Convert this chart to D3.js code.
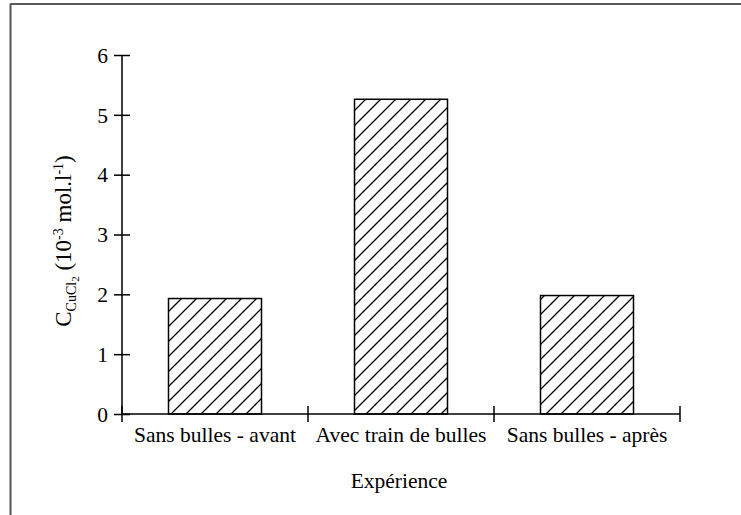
<!DOCTYPE html>
<html><head><meta charset="utf-8">
<script src="https://cdn.jsdelivr.net/npm/d3@7"></script>
<style>body{margin:0;background:#fff}svg{display:block}</style>
</head><body><svg id="c" width="741" height="515"></svg>
<script>
const categories = ["Sans bulles - avant", "Avec train de bulles", "Sans bulles - après"];
const values = [1.93, 5.26, 1.98];
const yTicks = [0, 1, 2, 3, 4, 5, 6];
const xTitle = "Expérience";

(function(){
const FF = "'Liberation Serif', 'Times New Roman', Times, serif";
const svg = d3.select("#c");
// frame
svg.append("line").attr("x1",10.5).attr("x2",741).attr("y1",4).attr("y2",4).attr("stroke","#222").attr("stroke-width",1.5);
svg.append("line").attr("x1",10.5).attr("x2",10.5).attr("y1",3.5).attr("y2",515).attr("stroke","#555").attr("stroke-width",2);

const defs = svg.append("defs");
const pat = defs.append("pattern").attr("id","hatch").attr("patternUnits","userSpaceOnUse")
  .attr("width",15).attr("height",15);
pat.append("rect").attr("width",15).attr("height",15).attr("fill","#fff");
pat.append("path").attr("d","M-2,17 L17,-2 M-2,2 L2,-2 M13,17 L17,13").attr("stroke","#000").attr("stroke-width",1.3);

const mLeft = 122, mRight = 680, mTop = 55, mBottom = 414;
const x = d3.scaleBand().domain(categories).range([mLeft, mRight]).paddingInner(0).paddingOuter(0);
const y = d3.scaleLinear().domain([0, 6]).range([mBottom, mTop]);

// bars
const bw = x.bandwidth() * 0.5;
svg.selectAll("rect.bar").data(values).enter().append("rect").attr("class","bar")
  .attr("x",(d,i)=>x(categories[i]) + (x.bandwidth()-bw)/2)
  .attr("y",d=>y(d)).attr("width",bw).attr("height",d=>mBottom-y(d))
  .attr("fill","url(#hatch)").attr("stroke","#000").attr("stroke-width",1.5);

// y axis
const ya = svg.append("g").attr("transform",`translate(${mLeft},0)`)
  .call(d3.axisLeft(y).tickValues(yTicks).tickSize(8).tickPadding(6).tickFormat(d3.format("d")));
ya.attr("font-family",null).attr("font-size",null);
ya.select(".domain").attr("stroke","#000").attr("stroke-width",1.5).attr("d",`M0,${mTop}V${mBottom}`);
ya.selectAll(".tick line").attr("x1",-8).attr("x2",8).attr("stroke","#000").attr("stroke-width",1.5);
ya.selectAll(".tick text").style("font-size","21.5px").style("font-family",FF).attr("fill","#000").attr("dy","0.34em").attr("x",-14);

// x axis
svg.append("line").attr("x1",mLeft).attr("x2",mRight).attr("y1",mBottom).attr("y2",mBottom).attr("stroke","#000").attr("stroke-width",1.5);
const bounds = categories.map(c=>x(c)).concat([mRight]);
svg.selectAll("line.xt").data(bounds).enter().append("line").attr("class","xt")
  .attr("x1",d=>d).attr("x2",d=>d).attr("y1",mBottom-8).attr("y2",mBottom+8).attr("stroke","#000").attr("stroke-width",1.5);
svg.selectAll("text.xl").data(categories).enter().append("text").attr("class","xl")
  .attr("x",d=>x(d)+x.bandwidth()/2).attr("y",mBottom+28).attr("text-anchor","middle")
  .style("font-size","21.5px").style("font-family",FF).text(d=>d);

svg.append("text").attr("x",(mLeft+mRight)/2 - 2).attr("y",488).attr("text-anchor","middle")
  .style("font-size","21.5px").style("font-family",FF).text(xTitle);

// y title
const yt = svg.append("text").attr("transform",`translate(71,${241}) rotate(-90)`).attr("text-anchor","middle")
  .style("font-size","23px").style("font-family",FF);
yt.append("tspan").text("C");
yt.append("tspan").style("font-size","14px").attr("dy",5).text("CuCl");
yt.append("tspan").style("font-size","11px").attr("dy",3).text("2");
yt.append("tspan").attr("dy",-8).text(" (10");
yt.append("tspan").style("font-size","14px").attr("dy",-8).text("-3");
yt.append("tspan").attr("dy",8).text(" mol.l");
yt.append("tspan").style("font-size","14px").attr("dy",-8).text("-1");
yt.append("tspan").attr("dy",8).text(")");
})();
</script></body></html>
